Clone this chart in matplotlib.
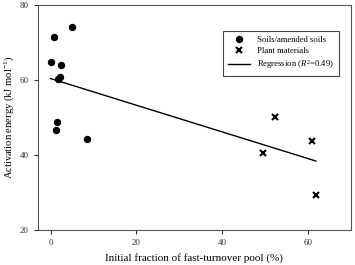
import matplotlib
matplotlib.use("Agg")
import matplotlib.pyplot as plt

plt.rcParams['font.family'] = ['Liberation Serif', 'DejaVu Serif']
plt.rcParams['mathtext.fontset'] = 'custom'
plt.rcParams['mathtext.rm'] = 'Liberation Serif'
plt.rcParams['mathtext.it'] = 'Liberation Serif:italic'

soil_x = [0.1, 0.85, 5.1, 2.55, 2.15, 1.8, 1.4, 1.3, 8.5]
soil_y = [64.7, 71.6, 74.2, 64.0, 60.9, 60.4, 48.7, 46.8, 44.4]
plant_x = [52.2, 60.8, 49.6, 61.8]
plant_y = [50.1, 43.8, 40.5, 29.3]
reg_x = [0.0, 61.8]
reg_y = [60.4, 38.4]
xticks = [0, 20, 40, 60]
yticks = [20, 40, 60, 80]

fig = plt.figure(figsize=(3.55, 2.65), dpi=100)
ax = fig.add_axes([0.106, 0.132, 0.883, 0.849])
ax.plot(soil_x, soil_y, 'o', color='black', markersize=4.3, label='Soils/amended soils', linestyle='none')
ax.plot(plant_x, plant_y, 'x', color='black', markersize=3.8, markeredgewidth=1.5, label='Plant materials', linestyle='none')
ax.plot(reg_x, reg_y, '-', color='black', linewidth=1.0, label='Regression ($R^2$=0.49)')
ax.set_xlim(-3, 70)
ax.set_ylim(20, 80)
ax.set_xticks(xticks)
ax.set_yticks(yticks)
ax.tick_params(labelsize=6.5, length=3, width=0.8, colors='#333333')
for s in ax.spines.values():
    s.set_linewidth(0.8)
    s.set_color('#555555')
ax.set_xlabel('Initial fraction of fast-turnover pool (%)', fontsize=8.0, labelpad=4)
ax.set_ylabel('Activation energy (kJ mol$^{-1}$)', fontsize=7.6, labelpad=2.5)
leg = ax.legend(loc='upper right', fontsize=6.2, frameon=True, fancybox=False,
                edgecolor='#444444', framealpha=1, borderpad=0.6, handlelength=2.6,
                bbox_to_anchor=(0.976, 0.905), labelspacing=0.35)
leg.get_frame().set_linewidth(0.8)
fig.savefig('out.png', dpi=100)
